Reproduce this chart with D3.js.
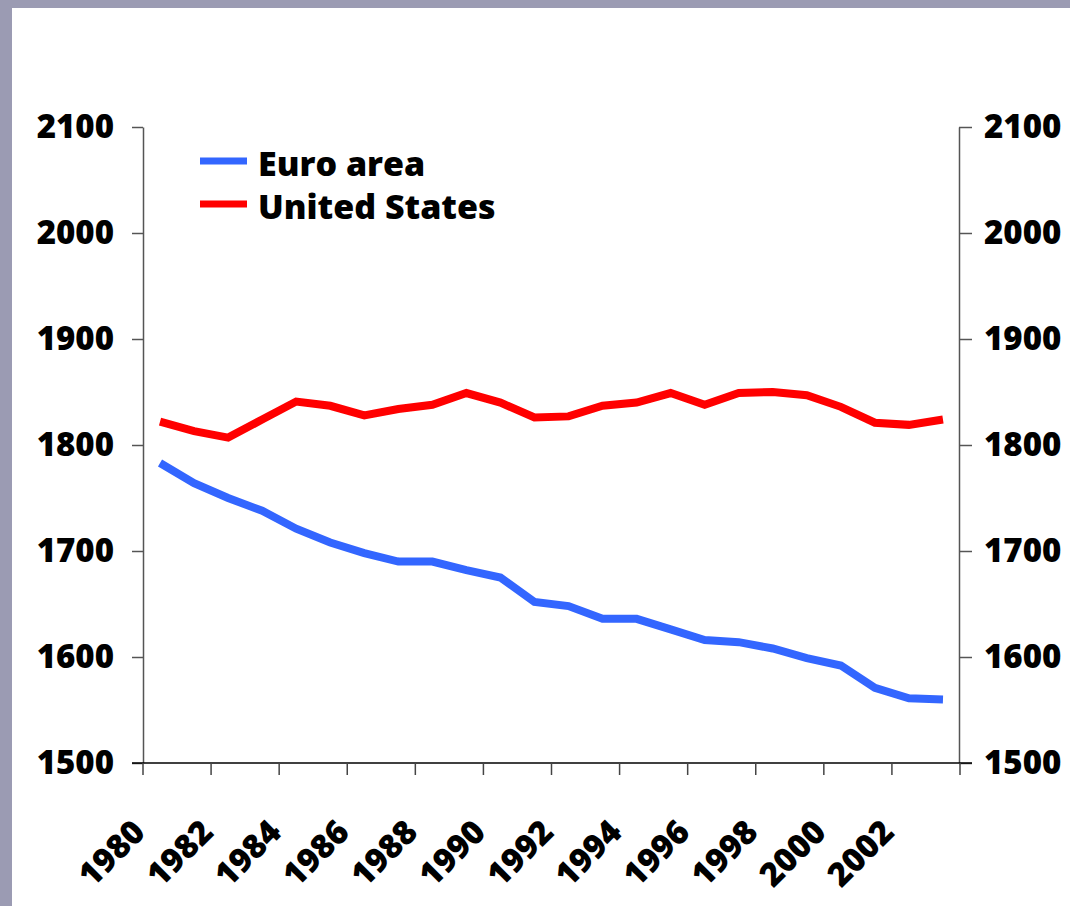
<!DOCTYPE html>
<html>
<head>
<meta charset="utf-8">
<script src="https://cdn.jsdelivr.net/npm/d3@7"></script>
<style>
  html, body { margin: 0; padding: 0; background: #9b9bb3; }
  svg { display: block; }
  text { font-family: "Open Sans", Lato, sans-serif; font-weight: 800; fill: #000; }
</style>
</head>
<body>
<svg id="chart" width="1070" height="906"></svg>
<script>
// ---- data ----
const years = [1980,1981,1982,1983,1984,1985,1986,1987,1988,1989,1990,1991,
               1992,1993,1994,1995,1996,1997,1998,1999,2000,2001,2002,2003];
const euroArea = [1783,1764,1750,1738,1721,1708,1698,1690,1690,1682,1675,1652,
                  1648,1636,1636,1626,1616,1614,1608,1599,1592,1571,1561,1560];
const unitedStates = [1822,1813,1807,1824,1841,1837,1828,1834,1838,1849,1840,1826,
                      1827,1837,1840,1849,1838,1849,1850,1847,1836,1821,1819,1824];
const yTicks = [1500,1600,1700,1800,1900,2000,2100];
const xLabelYears = [1980,1982,1984,1986,1988,1990,1992,1994,1996,1998,2000,2002];
const seriesNames = ["Euro area","United States"];
const seriesColors = ["#3366ff","#ff0000"];

(function () {
const FONT = "'Open Sans', Lato, sans-serif";
const svg = d3.select("#chart");
svg.append("rect").attr("x",12).attr("y",8).attr("width",1058).attr("height",898).attr("fill","#ffffff");

const pL = 143, pR = 960, pT = 127, pB = 763;
const x = d3.scaleBand().domain(years).range([pL, pR]).padding(0);
const y = d3.scaleLinear().domain([1500, 2100]).range([pB, pT]);

// left axis
const gL = svg.append("g").attr("transform", `translate(${pL},0)`)
  .call(d3.axisLeft(y).tickValues(yTicks).tickSize(11).tickSizeOuter(0).tickPadding(18).tickFormat(d3.format("d")));
// right axis
const gR = svg.append("g").attr("transform", `translate(${pR - 1},0)`)
  .call(d3.axisRight(y).tickValues(yTicks).tickSize(13).tickSizeOuter(0).tickPadding(12).tickFormat(d3.format("d")));
[gL, gR].forEach(g => {
  g.select(".domain").attr("stroke", "#555").attr("stroke-width", 1.5);
  g.selectAll(".tick line").attr("stroke", "#555").attr("stroke-width", 1.5);
  g.selectAll(".tick text").style("font-size", "33px").attr("fill", "#000")
    .style("font-family", FONT).style("font-weight", "800");
});

// bottom axis
svg.append("line").attr("x1", 132).attr("x2", 972).attr("y1", pB).attr("y2", pB)
  .attr("stroke", "#000").attr("stroke-width", 1.5);
const tickXs = years.filter((d, i) => i % 2 === 0).map(d => x(d)).concat([x.range()[1]]);
svg.append("g").selectAll("line").data(tickXs).join("line")
  .attr("x1", d => d).attr("x2", d => d).attr("y1", pB).attr("y2", pB + 12)
  .attr("stroke", "#444").attr("stroke-width", 1.5);
svg.append("g").selectAll("text").data(xLabelYears).join("text")
  .attr("transform", d => `translate(${x(d) + 4},${pB + 71}) rotate(-45)`)
  .attr("text-anchor", "end")
  .style("font-size", "33px")
  .text(d => d);

// lines
const line = d3.line().x((d, i) => x(years[i]) + x.bandwidth() / 2).y(d => y(d));
[euroArea, unitedStates].forEach((s, k) => {
  svg.append("path").datum(s).attr("d", line)
    .attr("fill", "none").attr("stroke", seriesColors[k]).attr("stroke-width", 8)
    .attr("stroke-linejoin", "miter").attr("stroke-linecap", "butt");
});

// legend
const lg = svg.append("g");
seriesNames.forEach((name, k) => {
  const cy = 161 + k * 43;
  lg.append("line").attr("x1", 200).attr("x2", 247).attr("y1", cy).attr("y2", cy)
    .attr("stroke", seriesColors[k]).attr("stroke-width", 7);
  lg.append("text").attr("x", 258).attr("y", cy + 15).style("font-size", "34px").text(name);
});
})();
</script>
</body>
</html>
